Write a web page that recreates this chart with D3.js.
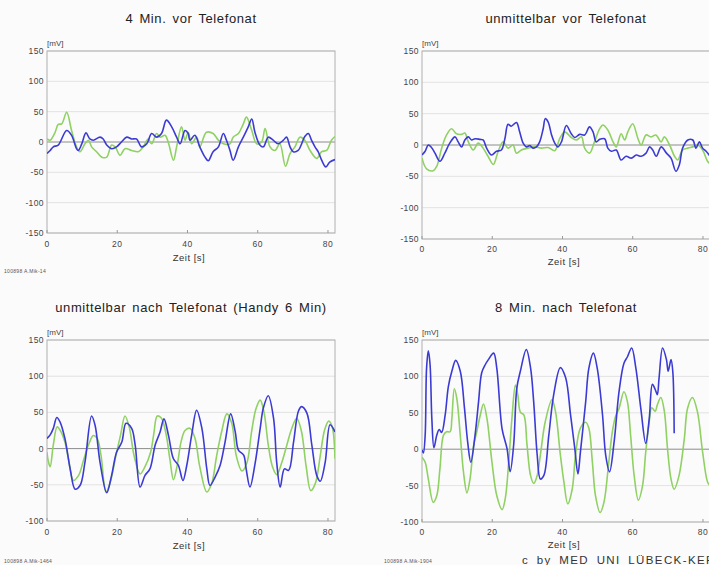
<!DOCTYPE html>
<html>
<head>
<meta charset="utf-8">
<title>EEG Telefonat</title>
<style>
  body { margin: 0; background: #fcfbfc; }
  svg { display: block; font-family: "Liberation Sans", Arial, sans-serif; }
  .title { font-size: 13px; fill: #222; letter-spacing: 0.6px; word-spacing: 2px; }
  .tick { font-size: 8.5px; fill: #444; letter-spacing: 0.4px; }
  .unit { font-size: 8px; fill: #444; }
  .xlabel { font-size: 9.5px; fill: #333; letter-spacing: 0.5px; }
  .foot { font-size: 5px; fill: #555; letter-spacing: 0.3px; }
  .copy { font-size: 11.5px; fill: #333; letter-spacing: 1.4px; word-spacing: 3px; }
</style>
</head>
<body>
<svg id="chart" width="709" height="565"></svg>
<script src="https://d3js.org/d3.v7.min.js"></script>
<script>
const p1Green = [[0,5],[0.9,3],[2.3,16],[3.2,29],[4.2,30],[5.6,49],[7,19],[8.4,-8],[9.4,-16],[10.8,-3],[11.8,3],[12.7,-8],[14.1,-16],[15.6,-25],[17,-25],[18.4,-5],[19.4,-8],[20.8,-22],[22.2,-11],[24.1,-14],[26,-16],[27.4,-8],[28.8,5],[29.8,-3],[31.2,14],[32.2,8],[33.6,11],[34.5,0],[36,-30],[36.9,-8],[38.3,25],[39.3,3],[40.2,16],[41.2,-3],[42.6,8],[43.5,-8],[45.4,16],[47.3,14],[48.8,3],[50.2,-3],[52.1,-3],[53,8],[54.5,14],[55.9,30],[56.8,41],[58.3,19],[59.7,-3],[61.1,0],[62.1,22],[63.5,-8],[64.9,-14],[66.3,-3],[67.9,-40],[69.2,-19],[70.6,-8],[72,8],[73.4,3],[74.9,-14],[76.8,-27],[78.2,-16],[79.6,-14],[81,3],[82,9]];
const p1Blue = [[0,-19],[0.9,-14],[1.8,-8],[3.2,-5],[5.6,19],[7,11],[8.4,-11],[8.9,-14],[9.9,-3],[11.1,15],[12.2,5],[13.2,3],[15.1,8],[16,5],[17,-5],[18.4,-11],[19.8,-8],[21.2,0],[22.7,8],[24.1,5],[25.5,5],[26.9,-8],[28.4,-3],[29.8,14],[31.2,8],[32.6,14],[34,36],[35.5,25],[36.9,8],[37.9,-3],[39.3,19],[40.2,14],[40.7,3],[42.1,11],[43.5,-8],[45,-25],[45.9,-31],[47.3,-16],[48.8,-8],[50.2,14],[51.1,3],[52.1,-14],[53,-30],[54.5,-8],[55.9,8],[57.3,25],[58.3,38],[59.2,16],[60.6,-5],[61.6,-8],[63,8],[64.4,3],[65.8,-3],[67.3,3],[68.2,8],[69.2,-8],[70.1,-16],[71.5,-14],[72.5,-3],[73.4,9],[74.4,14],[75.3,3],[76.3,-8],[77.2,-16],[78.2,-30],[79.4,-41],[80.5,-33],[82,-29]];

const p2Green = [[0,-21],[1.3,-38],[3.2,-41],[4.2,-34],[5.6,-5],[7,16],[8.4,26],[9.8,18],[11.3,17],[12.2,19],[13.2,5],[14.6,-8],[16,3],[17.4,-5],[18.8,-18],[20.3,-31],[21.7,-10],[23.1,5],[24.5,-5],[25.9,0],[26.9,-13],[28.3,-8],[30.2,-5],[32.1,-3],[34,-5],[35.9,-4],[37.8,-9],[39.2,10],[40.6,21],[42.5,12],[43.9,8],[45.4,13],[46.3,-5],[47.7,-13],[49.1,5],[50.6,26],[51.5,32],[52.9,24],[54.4,5],[55.3,-3],[56.7,18],[57.7,8],[58.6,21],[60,34],[61.5,10],[62.4,0],[63.8,16],[65.2,13],[66.6,16],[68.1,5],[69,13],[70.5,0],[71.9,-18],[72.8,-24],[74.2,-8],[75.7,-5],[77.1,-3],[78.5,0],[79.9,-8],[81.3,-26],[82,-30]];
const p2Blue = [[0,-16],[0.9,-10],[1.8,0],[2.7,-4],[3.7,-13],[5.1,-26],[6.5,-13],[7.9,3],[9.4,13],[10.3,5],[11.3,-3],[12.2,8],[13.2,13],[14.1,8],[15.1,10],[16.5,9],[17.4,8],[18.4,-5],[19.8,-16],[21.2,-10],[22.6,-8],[23.6,10],[24.5,33],[25.4,30],[26.9,36],[27.8,21],[28.8,3],[29.7,-3],[30.7,-1],[31.6,-5],[32.6,-3],[33.5,5],[34.5,26],[35.1,42],[35.9,37],[36.9,16],[37.8,3],[38.7,-3],[39.7,5],[41.1,31],[42.5,18],[43.5,12],[44.9,17],[46.3,16],[47.7,29],[48.7,21],[49.6,5],[50.6,9],[52,10],[52.9,-5],[53.9,-10],[55.3,-8],[56.7,-24],[58.1,-18],[59.6,-21],[61,-16],[62.4,-18],[63.8,-13],[64.8,-3],[65.7,-8],[66.7,-18],[68.1,-3],[69.6,-13],[70.9,-21],[72.3,-42],[73.3,-31],[74.2,-5],[75.7,8],[77.1,8],[78,-5],[79,5],[79.9,-5],[80.9,-10],[82,-18]];

const p3Green = [[0,-5],[0.4,-18],[0.9,-25],[1.8,5],[2.9,30],[4,23],[5.1,9],[6.1,-14],[7.5,-44],[9,-37],[10.4,-16],[11.8,5],[13.2,18],[14.3,14],[15.4,-10],[16.8,-60],[18.1,-45],[19.6,-10],[21,20],[22.2,45],[23.4,30],[24.8,-10],[26.5,-35],[27.9,-25],[29.5,-5],[30.4,20],[31.4,45],[32.6,42],[33.9,20],[35,-15],[36,-43],[37,-25],[38.2,10],[39.3,25],[40.7,28],[42.1,15],[43.5,-25],[45.5,-60],[46.9,-48],[48.3,-10],[49.8,25],[51.2,48],[52.6,35],[53.9,-10],[55.5,-31],[56.9,-20],[58.3,25],[59.5,55],[60.7,67],[61.8,50],[63,5],[64.2,-25],[65.4,-36],[66.8,-20],[68.3,5],[69.7,28],[71.1,42],[72.4,25],[73.8,-25],[75.1,-58],[76.4,-48],[77.8,-10],[79,25],[80.2,38],[81.2,30],[82,-14]];
const p3Blue = [[0,14],[0.9,19],[1.8,28],[2.8,43],[3.7,37],[5.1,14],[6.6,-28],[8,-56],[9.4,-51],[10.8,-19],[12.7,45],[13.7,32],[15.1,-19],[17,-61],[18.4,-37],[19.8,-5],[21.3,9],[22.5,35],[24.1,28],[25.1,5],[26.5,-53],[27.9,-37],[29.3,-28],[30.8,5],[32.2,23],[33.3,41],[34.6,18],[36,-14],[37.4,-23],[38.7,-44],[39.8,-23],[41.2,19],[42.6,53],[44.1,28],[45.5,-28],[46.4,-51],[47.9,-39],[49.3,-23],[50.7,9],[52.3,48],[53.6,23],[54.5,-2],[56,-9],[56.7,-28],[57.8,-53],[59.3,-19],[60.7,28],[61.6,56],[63,73],[64.5,42],[65.4,-19],[66.4,-53],[67.6,-28],[68.8,-30],[70.2,9],[71.6,52],[72.5,58],[74,49],[75.4,5],[76.8,-37],[77.8,-45],[79.2,-19],[80.6,33],[82,23]];

const p4Green = [[0,-11],[0.9,-18],[1.8,-41],[3.2,-73],[4.2,-64],[5.1,-27],[6.1,19],[7,24],[8,24],[8.5,42],[9.2,83],[9.9,70],[10.9,19],[11.8,-31],[12.8,-60],[13.7,-40],[14.7,5],[15.6,24],[16.6,47],[17.5,62],[18.5,42],[19.9,-17],[21.3,-64],[22.8,-83],[23.7,-68],[24.7,-17],[25.6,42],[26.6,88],[27.3,74],[28,51],[29,47],[29.9,6],[30.9,-36],[31.8,-47],[32.8,-36],[33.7,-8],[35.1,38],[37,68],[38,52],[39.4,-8],[40.4,-45],[41.5,-75],[42.8,-54],[43.7,-8],[45.1,29],[46.6,37],[47.5,29],[48.5,-17],[49.4,-64],[50.7,-87],[51.8,-73],[53.2,-17],[54.2,24],[55.1,45],[56.1,56],[57.5,79],[58.5,65],[59.4,19],[60.4,-36],[61.6,-70],[62.8,-50],[63.7,-4],[64.7,38],[65.4,57],[66.4,52],[67,61],[68,71],[69,52],[69.9,1],[70.9,-41],[71.8,-55],[73.2,-36],[74.7,15],[75.6,56],[77,71],[78.4,52],[79.9,-4],[81.3,-45],[82,-50]];
const p4Blue = [[0,-1],[0.4,-5],[0.9,19],[1.3,111],[1.8,135],[2.3,116],[2.8,42],[3.4,2],[4.2,19],[4.9,27],[5.6,23],[6.6,47],[7.5,86],[8.5,107],[9.6,122],[10.9,107],[12.1,56],[13,10],[13.9,-18],[15.1,19],[16.1,65],[17,105],[18,116],[18.9,123],[20.4,132],[21.3,111],[22.8,28],[24.2,1],[25.1,-31],[26.1,6],[27,84],[28,107],[29.7,137],[30.9,112],[31.8,65],[32.8,-8],[33.7,-41],[34.7,-36],[36.1,19],[37.5,75],[39.4,112],[40.9,98],[42.3,47],[43.5,1],[44.4,-34],[45.1,-4],[46.6,65],[47.5,111],[48.8,132],[49.9,111],[51.4,47],[52.3,-8],[53.4,-31],[54.7,10],[56.1,79],[57.5,118],[58.5,127],[59.7,139],[60.9,111],[62.3,56],[63.7,8],[64.7,42],[65.6,89],[66.4,82],[67,75],[67.5,98],[68.5,139],[69.6,123],[70.1,107],[70.9,123],[71.4,107],[71.8,22]];

const titles = ["4 Min. vor Telefonat", "unmittelbar vor Telefonat",
                "unmittelbar nach Telefonat (Handy 6 Min)", "8 Min. nach Telefonat"];
const footers = ["100898 A.Mik-14", null, "100898 A.Mik-1464", "100898 A.Mik-1904"];
const yTicksTop = [-150, -100, -50, 0, 50, 100, 150];
const yTicksBottom = [-100, -50, 0, 50, 100, 150];
const xTicks = [0, 20, 40, 60, 80];

const green = "#8fd162", blue = "#3b3bd4";

const panels = [
  { box: [47, 335, 51, 233], yDom: [-150, 150], yTicks: yTicksTop, green: p1Green, blue: p1Blue, titleY: 23, xlabY: 261, tickY: 247, footY: 273, footX: 4 },
  { box: [422, 710, 51, 239], yDom: [-150, 150], yTicks: yTicksTop, green: p2Green, blue: p2Blue, titleY: 23, xlabY: 265, tickY: 252 },
  { box: [47, 335, 340, 521], yDom: [-100, 150], yTicks: yTicksBottom, green: p3Green, blue: p3Blue, titleY: 312, xlabY: 549, tickY: 535, footY: 563, footX: 4 },
  { box: [422, 710, 340, 522], yDom: [-100, 150], yTicks: yTicksBottom, green: p4Green, blue: p4Blue, titleY: 312, xlabY: 548, tickY: 535, footY: 563, footX: 384 }
];

const svg = d3.select("#chart");
svg.append("rect").attr("width", 709).attr("height", 565).attr("fill", "#fcfbfc");

panels.forEach((p, i) => {
  const [x0, x1, y0, y1] = p.box;
  const x = d3.scaleLinear().domain([0, 82]).range([x0, x1]);
  const y = d3.scaleLinear().domain(p.yDom).range([y1, y0]);
  const g = svg.append("g");

  g.append("clipPath").attr("id", "clip" + i)
    .append("rect").attr("x", x0).attr("y", y0).attr("width", x1 - x0).attr("height", y1 - y0);

  // Gitterlinien
  g.selectAll(".grid").data(p.yTicks.filter(d => d !== 0)).enter().append("line")
    .attr("x1", x0).attr("x2", x1)
    .attr("y1", d => y(d)).attr("y2", d => y(d))
    .attr("stroke", "#dcdcdc").attr("stroke-width", 0.8);
  g.append("line").attr("x1", x0).attr("x2", x1).attr("y1", y(0)).attr("y2", y(0))
    .attr("stroke", "#8c8c8c").attr("stroke-width", 1);

  g.append("rect").attr("x", x0).attr("y", y0).attr("width", x1 - x0).attr("height", y1 - y0)
    .attr("fill", "none").attr("stroke", "#b0b0b0").attr("stroke-width", 1);

  // y-Achse
  g.selectAll(".yt").data(p.yTicks).enter().append("text")
    .attr("class", "tick").attr("x", x0 - 3).attr("y", d => y(d) + 3)
    .attr("text-anchor", "end").text(d => d);
  // x-Achse
  g.selectAll(".xtm").data(xTicks).enter().append("line")
    .attr("x1", d => x(d)).attr("x2", d => x(d)).attr("y1", y1).attr("y2", y1 - 3)
    .attr("stroke", "#999");
  g.selectAll(".xt").data(xTicks).enter().append("text")
    .attr("class", "tick").attr("x", d => x(d)).attr("y", p.tickY)
    .attr("text-anchor", "middle").text(d => d);

  g.append("text").attr("class", "unit").attr("x", x0).attr("y", y0 - 5).text("[mV]");
  g.append("text").attr("class", "xlabel").attr("x", (x0 + x1) / 2 - 2).attr("y", p.xlabY)
    .attr("text-anchor", "middle").text("Zeit [s]");
  g.append("text").attr("class", "title").attr("x", (x0 + x1) / 2).attr("y", p.titleY)
    .attr("text-anchor", "middle").text(titles[i]);
  if (footers[i]) {
    g.append("text").attr("class", "foot").attr("x", p.footX).attr("y", p.footY).text(footers[i]);
  }

  const line = d3.line().x(d => x(d[0])).y(d => y(d[1])).curve(d3.curveCatmullRom.alpha(0.5));
  const plot = g.append("g").attr("clip-path", `url(#clip${i})`);
  plot.append("path").attr("d", line(p.green)).attr("fill", "none")
    .attr("stroke", green).attr("stroke-width", 1.6);
  plot.append("path").attr("d", line(p.blue)).attr("fill", "none")
    .attr("stroke", blue).attr("stroke-width", 1.6);
});

svg.append("text").attr("class", "copy").attr("x", 522).attr("y", 564)
  .text("c  by MED UNI LÜBECK-KERN");
</script>
</body>
</html>
